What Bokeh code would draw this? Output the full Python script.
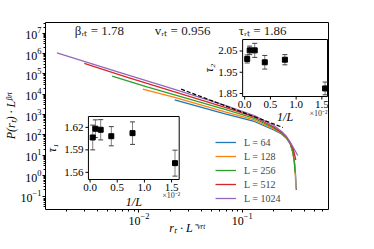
import math
from bokeh.plotting import figure
from bokeh.models import (Range1d, FixedTicker, Label, Legend, LegendItem,
                          ColumnDataSource, LinearScale, Spacer)
from bokeh.layouts import column
from bokeh.core.properties import value
from bokeh.embed import file_html
from bokeh.resources import INLINE

FONT = "Liberation Serif"

# ---------------- main data: x = r_t * L^{-v}, y = P(r_t) * L^{beta}
L_values = [64, 128, 256, 512, 1024]
colors = ["#1f77b4", "#ff7f0e", "#2ca02c", "#d62728", "#9467bd"]

x_L64 = [0.02215, 0.0681, 0.1306, 0.2017, 0.2400, 0.2676, 0.2918, 0.3081, 0.3198, 0.3275, 0.3325]
y_L64 = [5370, 1076, 461, 176, 112, 67.3, 34.1, 13.8, 4.45, 1.02, 0.198]

x_L128 = [0.01091, 0.02215, 0.0681, 0.1306, 0.2017, 0.2400, 0.2676, 0.2918, 0.3081, 0.3184, 0.3254, 0.3304]
y_L128 = [17820, 6960, 1349, 546, 197, 119, 71.3, 36.1, 13.8, 4.45, 1.02, 0.235]

x_L256 = [0.005513, 0.01197, 0.02215, 0.0681, 0.1306, 0.2017, 0.2400, 0.2676, 0.2918, 0.3081, 0.3184, 0.3232]
y_L256 = [77500, 22850, 9440, 1791, 647, 221, 125, 75.4, 38.2, 15.5, 4.45, 1.44]

x_L512 = [0.002963, 0.007755, 0.02215, 0.0681, 0.1306, 0.2017, 0.2400, 0.2676, 0.2918, 0.3114, 0.3289]
y_L512 = [326000, 68400, 13270, 2246, 767, 247, 133, 79.8, 40.5, 19.4, 5.91]

x_L1024 = [0.001612, 0.006242, 0.02215, 0.0681, 0.1306, 0.2017, 0.2400, 0.2676, 0.2918, 0.3114, 0.3435]
y_L1024 = [1094000, 127600, 17220, 2820, 908, 293, 149, 84.4, 42.8, 24.3, 9.84]

# reference power-law (dashed)
x_ref = [0.02562, 0.2469]
y_ref = [17820, 234]

# ---------------- inset data
L_inset = [2048, 1024, 512, 256, 128, 64]
tau1 = [1.6065, 1.6182, 1.6168, 1.6082, 1.6123, 1.5723]
tau1_err = [0.0165, 0.0118, 0.0135, 0.0128, 0.0150, 0.0173]
tau2 = [2.0126, 2.053, 2.053, 1.997, 2.009, 1.874]
tau2_err = [0.019, 0.020, 0.033, 0.032, 0.024, 0.030]

tau1_ticks = [1.56, 1.59, 1.62]
tau2_ticks = [1.85, 1.95, 2.05]
invL_ticks = [0.0, 0.5, 1.0, 1.5]

beta_rt, v_rt, tau_rt = 1.78, 0.956, 1.86

# ---------------- main figure
p = figure(width=358, height=219, x_axis_type="log", y_axis_type="log",
           x_range=Range1d(0.00125, 0.681), y_range=Range1d(0.0218, 3.37e7),
           output_backend="svg", toolbar_location=None,
           min_border_left=38, min_border_right=30, min_border_top=0, min_border_bottom=32)
p.grid.visible = False
p.outline_line_color = "black"
p.outline_line_width = 1
p.background_fill_color = "white"
p.border_fill_color = "white"

major_x = [10.0 ** k for k in range(-3, 1)]
minor_x = [m * 10.0 ** k for k in range(-3, 0) for m in range(2, 10)]
major_y = [10.0 ** k for k in range(-1, 8)]
minor_y = [m * 10.0 ** k for k in range(-2, 8) for m in range(2, 10)]
p.xaxis.ticker = FixedTicker(ticks=major_x, minor_ticks=minor_x)
p.yaxis.ticker = FixedTicker(ticks=major_y, minor_ticks=minor_y)
for ax in (p.xaxis[0], p.yaxis[0]):
    ax.axis_line_color = None
    ax.major_tick_in = 0
    ax.major_tick_out = 3
    ax.minor_tick_in = 0
    ax.minor_tick_out = 2
    ax.major_tick_line_color = "black"
    ax.minor_tick_line_color = "black"
    ax.major_label_text_font = FONT
    ax.major_label_text_font_size = "12px"
    ax.major_label_text_color = "black"
    ax.axis_label_text_font = FONT
    ax.axis_label_text_font_size = "12px"
    ax.axis_label_text_font_style = "italic"
    ax.axis_label_text_color = "black"
p.xaxis.major_label_standoff = 0
p.yaxis.major_label_standoff = 1
p.xaxis.axis_label_standoff = -7
p.yaxis.axis_label_standoff = 0
p.xaxis.axis_label = "rₜ · L⁻ᵛʳᵗ"
p.yaxis.axis_label = "P(rₜ) · Lᵝʳᵗ"

series_x = [x_L64, x_L128, x_L256, x_L512, x_L1024]
series_y = [y_L64, y_L128, y_L256, y_L512, y_L1024]
items = []
for L, c, xs, ys in zip(L_values, colors, series_x, series_y):
    r = p.line(xs, ys, line_color=c, line_width=1.3)
    items.append(LegendItem(label=f"L = {L}", renderers=[r]))

p.line(x_ref, y_ref, line_color="black", line_width=1.2, line_dash="4 2")

legend = Legend(items=items, location=(170, 4), orientation="vertical",
                border_line_color=None, background_fill_alpha=0,
                padding=0, margin=0, spacing=0, label_height=14, glyph_height=14,
                glyph_width=21, label_standoff=8,
                label_text_font=FONT, label_text_font_size="10px")
p.add_layout(legend)

for x0, txt in [(0.0024, f"βᵣₜ = {beta_rt}"), (0.01425, f"vᵣₜ = {v_rt}"), (0.0923, f"τᵣₜ = {tau_rt}")]:
    p.add_layout(Label(x=x0, y=1.36e7, text=txt, text_align="left", text_baseline="middle",
                       text_font=FONT, text_font_size="13px", text_color="#222222"))

# ---------------- insets drawn on linear secondary scales of the main frame
p.extra_x_ranges = {"i1x": Range1d(-0.820, 4.387), "i2x": Range1d(-3.871, 1.629)}
p.extra_y_ranges = {"i1y": Range1d(1.5105, 1.7598), "i2y": Range1d(1.3047, 2.184)}
p.extra_x_scales = {"i1x": LinearScale(), "i2x": LinearScale()}
p.extra_y_scales = {"i1y": LinearScale(), "i2y": LinearScale()}


def draw_inset(xn, yn, xlim, ylim, yticks, ylabel, tau, err, ylab_off, xlab_off, offtxt_off,
               xtick_off):
    kw = dict(x_range_name=xn, y_range_name=yn)
    x0, x1 = xlim
    y0, y1 = ylim
    p.quad(left=[x0], right=[x1], bottom=[y0], top=[y1], fill_color="white",
           line_color="black", line_width=1, **kw)
    invL = [100.0 / L for L in L_inset]
    src = ColumnDataSource(dict(x=invL, y=tau,
                                lo=[t - e for t, e in zip(tau, err)],
                                hi=[t + e for t, e in zip(tau, err)]))
    p.segment(x0="x", y0="lo", x1="x", y1="hi", source=src, line_color="#808080",
              line_width=1, **kw)
    p.scatter("x", "lo", source=src, marker="dash", size=5, line_color="#404040",
              line_width=1, **kw)
    p.scatter("x", "hi", source=src, marker="dash", size=5, line_color="#404040",
              line_width=1, **kw)
    p.scatter("x", "y", source=src, marker="square", size=5, color="black", **kw)
    # y axis ticks and labels
    p.ray(x=[x0] * len(yticks), y=yticks, length=3, length_units="screen", angle=math.pi,
          line_color="black", line_width=1, **kw)
    p.text(x=[x0] * len(yticks), y=yticks, text=[f"{t:.2f}" for t in yticks], x_offset=-5,
           text_align="right", text_baseline="middle", text_font=value(FONT),
           text_font_size=value("11px"), text_color="black", **kw)
    # x axis ticks and labels
    p.ray(x=invL_ticks, y=[y0] * len(invL_ticks), length=3, length_units="screen",
          angle=-math.pi / 2, line_color="black", line_width=1, **kw)
    p.text(x=invL_ticks, y=[y0] * len(invL_ticks), text=[f"{t:.1f}" for t in invL_ticks],
           y_offset=xtick_off, text_align="center", text_baseline="top", text_font=value(FONT),
           text_font_size=value("11px"), text_color="black", **kw)
    # axis titles
    p.text(x=[(x0 + x1) / 2], y=[y0], text=["1/L"], y_offset=xlab_off, text_align="center",
           text_baseline="top", text_font=value(FONT), text_font_size=value("12px"),
           text_font_style="italic", text_color="black", **kw)
    p.text(x=[x0], y=[(y0 + y1) / 2], text=[ylabel], x_offset=ylab_off, angle=math.pi / 2,
           text_align="center", text_baseline="middle", text_font=value(FONT),
           text_font_size=value("12px"), text_font_style="italic", text_color="black", **kw)
    p.text(x=[x1], y=[y0], text=["×10⁻²"], x_offset=offtxt_off[0], y_offset=offtxt_off[1],
           text_align="right", text_baseline="middle", text_font=value(FONT),
           text_font_size=value("8px"), text_color="#333333", **kw)


draw_inset("i1x", "i1y", (-0.03, 1.64), (1.5505, 1.6345), tau1_ticks, "τ₁", tau1, tau1_err,
           -36, 16, (1, 16.5), 5)
draw_inset("i2x", "i2y", (-0.04, 1.61), (1.836, 2.104), tau2_ticks, "τ₂", tau2, tau2_err,
           -34, 13, (0, 16.7), 4)

root = column(Spacer(width=358, height=22), p)
open("out.html", "w").write(file_html(root, INLINE))
